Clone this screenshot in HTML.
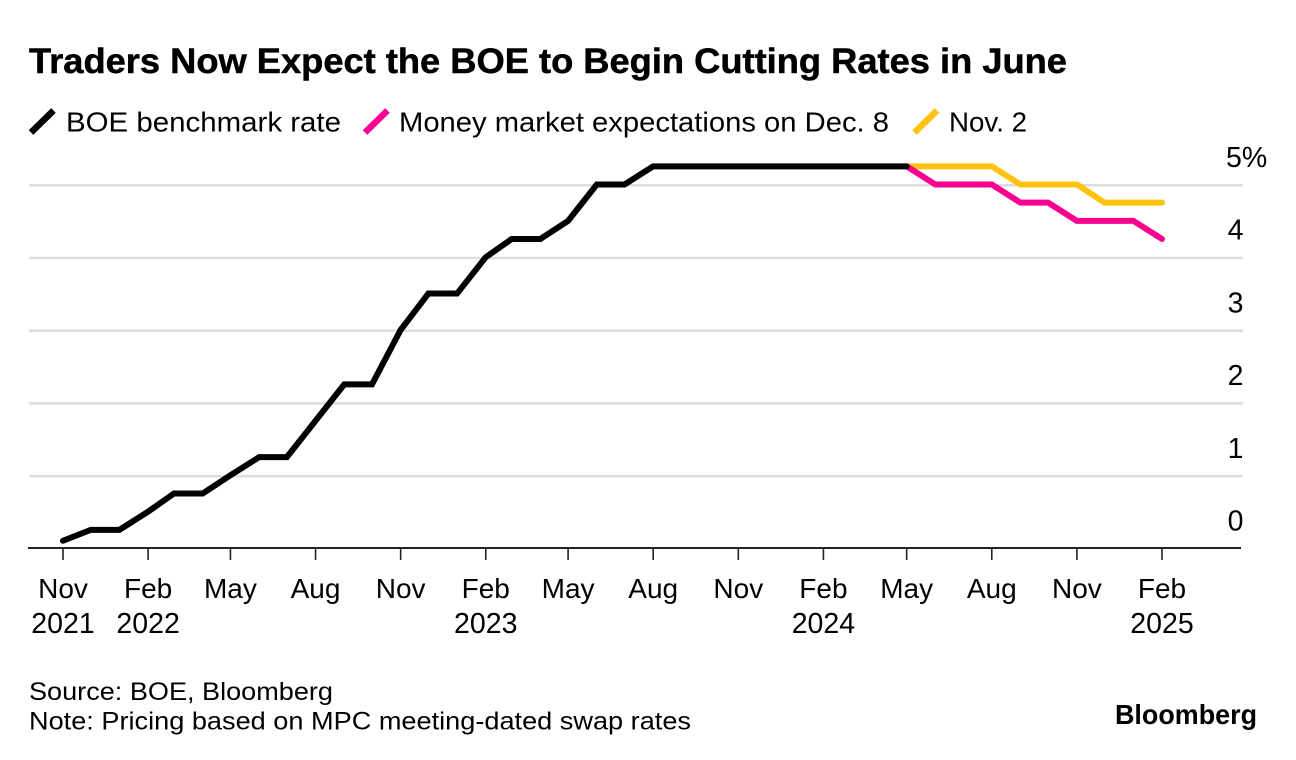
<!DOCTYPE html>
<html lang="en">
<head>
<meta charset="utf-8">
<title>Traders Now Expect the BOE to Begin Cutting Rates in June</title>
<style>
html,body{margin:0;padding:0;background:#fff;}
body{width:1296px;height:760px;overflow:hidden;}
svg{display:block;font-family:"Liberation Sans",Arial,sans-serif;}
text{fill:#000;}
</style>
</head>
<body>
<svg id="chart" width="1296" height="760" viewBox="0 0 1296 760" xmlns="http://www.w3.org/2000/svg">
  <rect width="1296" height="760" fill="#fff"/>
  <text x="29" y="73" font-size="35" font-weight="700" stroke="#000" stroke-width="0.5" textLength="1038" lengthAdjust="spacingAndGlyphs">Traders Now Expect the BOE to Begin Cutting Rates in June</text>

  <g>
    <g>
      <line x1="31" y1="132.5" x2="53.5" y2="110.5" stroke="#000" stroke-width="6.5"/>
      <text x="66" y="131.5" font-size="28" textLength="275" lengthAdjust="spacingAndGlyphs">BOE benchmark rate</text>
    </g>
    <g>
      <line x1="365" y1="132.5" x2="387.5" y2="110.5" stroke="#fa0090" stroke-width="6.5"/>
      <text x="399" y="131.5" font-size="28" textLength="490" lengthAdjust="spacingAndGlyphs">Money market expectations on Dec. 8</text>
    </g>
    <g>
      <line x1="914.5" y1="132.5" x2="937" y2="110.5" stroke="#ffc20e" stroke-width="6.5"/>
      <text x="949" y="131.5" font-size="28" textLength="78" lengthAdjust="spacingAndGlyphs">Nov. 2</text>
    </g>
  </g>

  <g id="grid"></g>
  <g id="ylabels"></g>
  <g id="xaxis"></g>
  <g id="series"></g>

  <g>
    <text x="29" y="700" font-size="25" textLength="304" lengthAdjust="spacingAndGlyphs">Source: BOE, Bloomberg</text>
    <text x="29" y="729.5" font-size="25" textLength="662" lengthAdjust="spacingAndGlyphs">Note: Pricing based on MPC meeting-dated swap rates</text>
    <text x="1115" y="724" font-size="28" font-weight="700" textLength="142" lengthAdjust="spacingAndGlyphs">Bloomberg</text>
  </g>
</svg>
<script>
// Chart data
const boeMonths = ["2021-11","2021-12","2022-01","2022-02","2022-03","2022-04","2022-05","2022-06","2022-07","2022-08","2022-09","2022-10","2022-11","2022-12","2023-01","2023-02","2023-03","2023-04","2023-05","2023-06","2023-07","2023-08","2023-09","2023-10","2023-11","2023-12","2024-01","2024-02","2024-03","2024-04","2024-05"];
const boeValues = [0.1,0.25,0.25,0.5,0.75,0.75,1,1.25,1.25,1.75,2.25,2.25,3,3.5,3.5,4,4.25,4.25,4.5,5,5,5.25,5.25,5.25,5.25,5.25,5.25,5.25,5.25,5.25,5.25];
const forecastMonths = ["2024-05","2024-06","2024-07","2024-08","2024-09","2024-10","2024-11","2024-12","2025-01","2025-02"];
const dec8Values = [5.25,5,5,5,4.75,4.75,4.5,4.5,4.5,4.25];
const nov2Values = [5.25,5.25,5.25,5.25,5,5,5,4.75,4.75,4.75];
const yTicks = [0,1,2,3,4,5];
const yTickLabels = ["0","1","2","3","4","5%"];
const xTicks = ["2021-11","2022-02","2022-05","2022-08","2022-11","2023-02","2023-05","2023-08","2023-11","2024-02","2024-05","2024-08","2024-11","2025-02"];
const xTickMonths = ["Nov","Feb","May","Aug","Nov","Feb","May","Aug","Nov","Feb","May","Aug","Nov","Feb"];
const xTickYears = ["2021","2022","","","","2023","","","","2024","","","","2025"];

const NS = "http://www.w3.org/2000/svg";
const t0 = Date.UTC(2021,10,1), t1 = Date.UTC(2025,1,1);
function xScale(m){
  const p = m.split("-");
  const t = Date.UTC(+p[0], +p[1]-1, 1);
  return 63 + (t - t0) / (t1 - t0) * (1162 - 63);
}
function yScale(v){ return 548 - v * 72.7; }
function make(tag, attrs, parent, txt){
  const el = document.createElementNS(NS, tag);
  for (const k in attrs) el.setAttribute(k, attrs[k]);
  if (txt !== undefined) el.textContent = txt;
  parent.appendChild(el);
  return el;
}

const grid = document.getElementById("grid");
const ylabels = document.getElementById("ylabels");
yTicks.forEach(function(v, i){
  if (v !== 0) {
    const gl = make("line", {x1:29, x2:1243, y1:yScale(v)+0.8, y2:yScale(v)+0.8, stroke:"#dcdcdc", "stroke-width":2.5}, grid);
    
    
  }
  const lab = make("text", {x:1243.5, y:yScale(v)-17.5, "font-size":28.5}, ylabels, yTickLabels[i]);
  
  
  if (yTickLabels[i].indexOf("%") >= 0) {
    lab.setAttribute("x", 1226);
  } else {
    lab.setAttribute("text-anchor", "end");
  }
});

const xaxis = document.getElementById("xaxis");
const axisLine = make("line", {x1:28, x2:1241, y1:548, y2:548, stroke:"#222", "stroke-width":2}, xaxis);


xTicks.forEach(function(m, i){
  const x = xScale(m);
  const tick = make("line", {x1:x, x2:x, y1:548, y2:560, stroke:"#222", "stroke-width":1.6}, xaxis);
  
  
  const ml = make("text", {x:x, y:598, "font-size":28, "text-anchor":"middle"}, xaxis, xTickMonths[i]);
  
  
  if (xTickYears[i]) {
    const yl = make("text", {x:x, y:633, "font-size":28.5, "text-anchor":"middle"}, xaxis, xTickYears[i]);
    
    
  }
});

function pathFor(months, values){
  return months.map(function(m, i){
    return (i ? "L" : "M") + xScale(m).toFixed(2) + " " + yScale(values[i]).toFixed(2);
  }).join(" ");
}
const series = document.getElementById("series");
const lineAttrs = {fill:"none", "stroke-width":6, "stroke-linejoin":"miter", "stroke-linecap":"round"};

const nov2Line = make("path", Object.assign({d:pathFor(forecastMonths, nov2Values), stroke:"#ffc20e"}, lineAttrs), series);



const dec8Line = make("path", Object.assign({d:pathFor(forecastMonths, dec8Values), stroke:"#fa0090"}, lineAttrs), series);



const boeLine = make("path", Object.assign({d:pathFor(boeMonths, boeValues), stroke:"#000"}, lineAttrs), series);


</script>
</body>
</html>
